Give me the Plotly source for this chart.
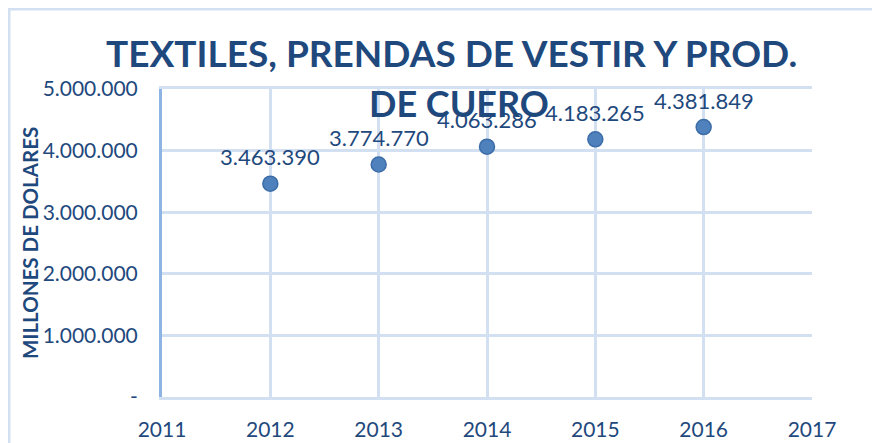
import plotly.graph_objects as go

years = [2012, 2013, 2014, 2015, 2016]
values = [3463390, 3774770, 4063286, 4183265, 4381849]
value_labels = ["3.463.390", "3.774.770", "4.063.286", "4.183.265", "4.381.849"]
y_tickvals = [0, 1000000, 2000000, 3000000, 4000000, 5000000]
y_ticktext = ["-", "1.000.000", "2.000.000", "3.000.000", "4.000.000", "5.000.000"]
x_tickvals = [2011, 2012, 2013, 2014, 2015, 2016, 2017]

TXT = "#1F497D"
GRID = "#D3E0F1"
AXIS = "#8DB4E2"
FONT = "Lato"

fig = go.Figure()
fig.add_trace(go.Scatter(
    x=years, y=values, mode="markers",
    marker=dict(size=15, color="#4F81BD", line=dict(color="#3C6DA8", width=1.5)),
    cliponaxis=False, showlegend=False,
))

annotations = [
    dict(x=xv, y=yv, text=t, xref="x", yref="y", showarrow=False,
         yshift=27, xanchor="center", yanchor="middle",
         font=dict(family=FONT, size=22, color=TXT))
    for xv, yv, t in zip(years, values, value_labels)
]
annotations += [
    dict(text="<b>TEXTILES, PRENDAS DE VESTIR Y PROD.</b>", xref="paper", yref="paper",
         x=0.446, y=1.117, xanchor="center", yanchor="middle", showarrow=False,
         font=dict(family=FONT, size=37, color=TXT)),
    dict(text="<b>DE CUERO</b>", xref="paper", yref="paper",
         x=0.457, y=0.955, xanchor="center", yanchor="middle", showarrow=False,
         font=dict(family=FONT, size=36, color=TXT)),
    dict(text="<b>MILLONES DE DOLARES</b>", xref="paper", yref="paper",
         x=-0.203, y=0.5, xanchor="center", yanchor="middle", showarrow=False,
         textangle=-90, font=dict(family=FONT, size=20.5, color=TXT)),
]

fig.update_layout(
    width=872, height=435,
    margin=dict(l=154, r=68, t=81, b=46, autoexpand=False),
    paper_bgcolor="white", plot_bgcolor="white",
    font=dict(family=FONT, color=TXT),
    xaxis=dict(
        range=[2011, 2017], tickvals=x_tickvals, automargin=False,
        showgrid=True, gridcolor=GRID, gridwidth=3,
        showline=True, linecolor=GRID, linewidth=3, mirror=True,
        zeroline=False, ticks="", ticklabelstandoff=12,
        tickfont=dict(family=FONT, size=21, color=TXT),
    ),
    yaxis=dict(
        range=[0, 5000000], tickvals=y_tickvals, ticktext=y_ticktext, automargin=False,
        showgrid=True, gridcolor=GRID, gridwidth=3,
        showline=True, linecolor=AXIS, linewidth=3,
        zeroline=False, ticks="", ticklabelstandoff=17,
        tickfont=dict(family=FONT, size=21, color=TXT),
    ),
    annotations=annotations,
    shapes=[
        dict(type="rect", xref="paper", yref="paper",
             x0=-0.2354, x1=1.3, y0=-0.3, y1=1.26,
             line=dict(color=GRID, width=3), layer="below"),
    ],
)

fig.write_html("out.html")
